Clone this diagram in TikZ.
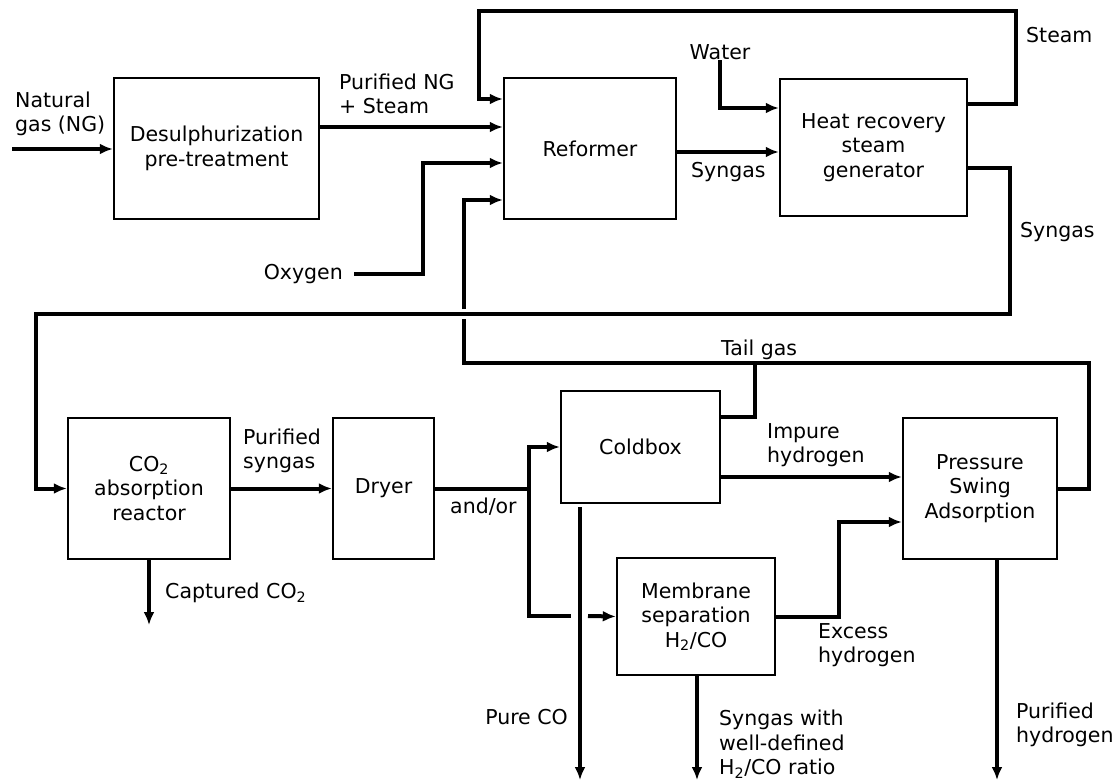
\documentclass[tikz,border=0pt]{standalone}
\usepackage{fontspec}
\setmainfont{DejaVu Sans}
\usetikzlibrary{arrows.meta}

\begin{document}
\begin{tikzpicture}[x=1pt,y=-1pt,
		font=\fontsize{20.5}{24.5}\selectfont,
		unit/.style={draw,line width=2.4pt,align=center,inner sep=0pt},
		lbl/.style={inner sep=0pt,align=left},
		pipe/.style={line width=4pt},
		flow/.style={pipe,-{Latex[length=13pt,width=11pt]}}]
			\useasboundingbox (0,0) rectangle (1119,782);
			\node[unit,minimum width=205pt,minimum height=141pt] (desulph) at (216.5,148.5) {Desulphurization\\pre-treatment};
			\node[unit,minimum width=172pt,minimum height=141pt] (reformer) at (590,148.5) {Reformer};
			\node[unit,minimum width=187pt,minimum height=137pt] (hrsg) at (873.5,147.5) {Heat recovery\\steam\\generator};
			\node[unit,minimum width=162pt,minimum height=141pt] (co2) at (149,488.5) {CO\textsubscript{2}\\absorption\\reactor};
			\node[unit,minimum width=101pt,minimum height=141pt] (dryer) at (383.5,488.5) {Dryer};
			\node[unit,minimum width=159pt,minimum height=112pt] (coldbox) at (640.5,447) {Coldbox};
			\node[unit,minimum width=158pt,minimum height=117pt] (membrane) at (696,616.5) {Membrane\\separation\\H\textsubscript{2}/CO};
			\node[unit,minimum width=154pt,minimum height=141pt] (psa) at (980,488.5) {Pressure\\Swing\\Adsorption};

			\node[lbl,anchor=west] (natgas) at (15,114) {Natural\\gas (NG)};
			\node[lbl,anchor=west] (purng) at (339,94) {Purified NG\\+ Steam};
			\node[lbl,anchor=east] (oxygen) at (343,274) {Oxygen};
			\node[lbl] (water) at (720,52.5) {Water};
			\node[lbl,anchor=west] (syngasa) at (691,172) {Syngas};
			\node[lbl,anchor=west] (steam) at (1026,35) {Steam};
			\node[lbl,anchor=west] (syngasb) at (1020,232) {Syngas};
			\node[lbl,anchor=west] (tailgas) at (721,350) {Tail gas};
			\node[lbl,anchor=west] (pursyn) at (243,451) {Purified\\syngas};
			\node[lbl,anchor=west] (captured) at (165,593) {Captured CO\textsubscript{2}};
			\node[lbl,anchor=west] (andor) at (450,507) {and/or};
			\node[lbl,anchor=west] (impure) at (767,445) {Impure\\hydrogen};
			\node[lbl,anchor=west] (excess) at (818,645) {Excess\\hydrogen};
			\node[lbl,anchor=east] (pureco) at (568,717) {Pure CO};
			\node[lbl,anchor=west] (ratiotxt) at (719,744) {Syngas with\\well-defined\\H\textsubscript{2}/CO ratio};
			\node[lbl,anchor=west] (purh) at (1016,725) {Purified\\hydrogen};

			\coordinate (ngin) at (12,149);
			\coordinate (split) at (529,488.5);
			\coordinate (captout) at (149,625);
			\coordinate (coout) at (580,780);
			\coordinate (ratioout) at (697,780);
			\coordinate (h2out) at (997,780);

			\draw[flow] (ngin) -- (ngin -| desulph.west);
			\draw[flow] (desulph.east |- 0,127) -- (reformer.west |- 0,127);
			\draw[flow] ([xshift=11pt]oxygen.east) -| (423,163) -- (reformer.west |- 0,163);
			\draw[flow] (reformer.east |- 0,152) -- (hrsg.west |- 0,152);
			\draw[flow] (water) |- (hrsg.west |- 0,108);
			\draw[flow] (hrsg.east |- 0,104) -| (1016,11) -| (479,99) -- (reformer.west |- 0,99);
			\draw[flow] (hrsg.east |- 0,168) -| (1010,314) -| ([xshift=-31pt]co2.west) -- (co2.west);
			\draw[pipe] (psa.east |- 0,489) -| (1089,363) -| (464,319);
			\draw[flow] (464,309) |- (reformer.west |- 0,200);
			\draw[pipe] (coldbox.east |- 0,417) -| (755,363);
			\draw[flow] (co2) -- (dryer);
			\draw[flow] (co2.south) -- (captout);
			\draw[pipe] (dryer.east) -- (split);
			\draw[flow] (split) |- (coldbox.west);
			\draw[pipe] (split) |- (571,616);
			\draw[flow] (588,616) -- (membrane.west);
			\draw[flow] (coldbox.east |- 0,477) -- (psa.west |- 0,477);
			\draw[flow] (membrane.east) -| (839,522) -- (psa.west |- 0,522);
			\draw[flow,shorten <=3pt] (coldbox.south -| coout) -- (coout);
			\draw[flow] (membrane.south -| ratioout) -- (ratioout);
			\draw[flow] (psa.south -| h2out) -- (h2out);
\end{tikzpicture}
\end{document}
